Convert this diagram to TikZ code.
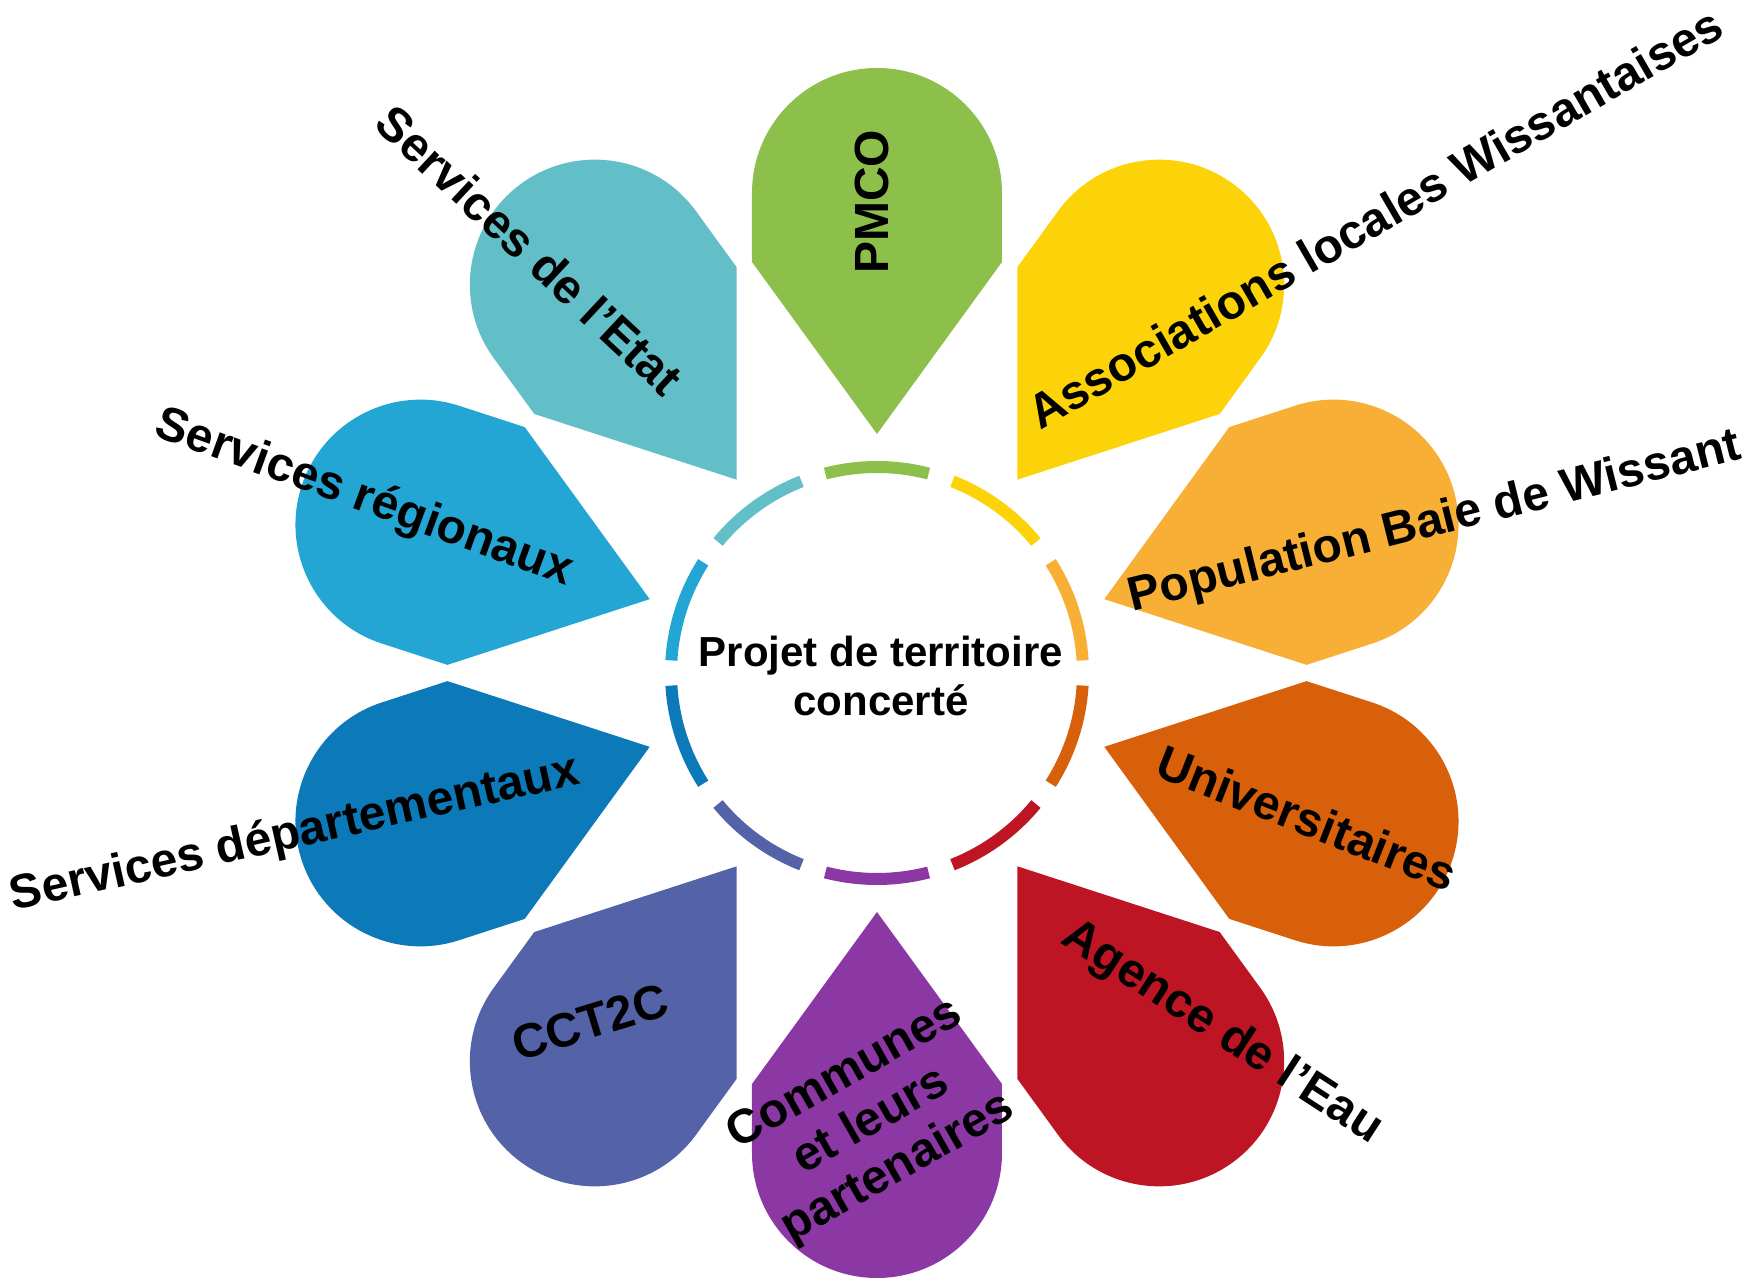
\documentclass[tikz,border=0pt]{standalone}
\usepackage{fontspec}
\setmainfont{Liberation Sans}
\definecolor{cGreen}{HTML}{8DC04A}
\definecolor{cYellow}{HTML}{FCD308}
\definecolor{cLOrange}{HTML}{F7AF35}
\definecolor{cOrange}{HTML}{D9600A}
\definecolor{cRed}{HTML}{BE1524}
\definecolor{cPurple}{HTML}{8B38A5}
\definecolor{cIndigo}{HTML}{5462A8}
\definecolor{cDBlue}{HTML}{0C79B9}
\definecolor{cBlue}{HTML}{24A6D4}
\definecolor{cTeal}{HTML}{63BFC7}
\begin{document}
\begin{tikzpicture}[x=1pt,y=1pt,
  lbl/.style={font=\bfseries\fontsize{48}{54}\selectfont, text=black, inner sep=0pt, align=center},
  ctr/.style={font=\bfseries\fontsize{42}{49}\selectfont, text=black, inner sep=0pt, align=center},
  ringarc/.style={line width=12}]
\useasboundingbox (-877,-608) rectangle (880,673);
\fill[white] (-877,-608) rectangle (880,673);
\foreach \ang/\col in {90/cGreen, 54/cYellow, 18/cLOrange, -18/cOrange, -54/cRed, -90/cPurple, -126/cIndigo, -162/cDBlue, 162/cBlue, 126/cTeal} {
  \pgfmathsetmacro\rot{\ang-90}
  \pgfmathsetmacro\sa{\ang-14.5}
  \pgfmathsetmacro\ea{\ang+14.5}
  \fill[\col, rotate=\rot] (0,239) -- (125,411) -- (125,480) arc[start angle=0,end angle=180,radius=125] -- (-125,411) -- cycle;
  \draw[\col, ringarc] (\sa:206) arc[start angle=\sa, end angle=\ea, radius=206];
}
\node[ctr] (center) at (4,-3) {Projet de territoire\\concerté};
\node[lbl, rotate=90] (pmco) at (-5,471) {PMCO};
\node[lbl, rotate=30] (assoc) at (498,455) {Associations locales Wissantaises};
\node[lbl, rotate=14] (popul) at (558,150) {Population Baie de Wissant};
\node[lbl, rotate=-21.5] (univ) at (430,-145) {Universitaires};
\node[lbl, rotate=-33] (agence) at (345,-360) {Agence de l’Eau};
\node[lbl, rotate=29.5] (communes) at (-5,-449) {Communes\\et leurs\\partenaires};
\node[lbl, rotate=17] (cct) at (-287,-349) {CCT2C};
\node[lbl, rotate=12.6] (dept) at (-582,-162) {Services départementaux};
\node[lbl, rotate=-20] (region) at (-513,174) {Services régionaux};
\node[lbl, rotate=-43] (etat) at (-347,423) {Services de l’Etat};
\end{tikzpicture}
\end{document}
